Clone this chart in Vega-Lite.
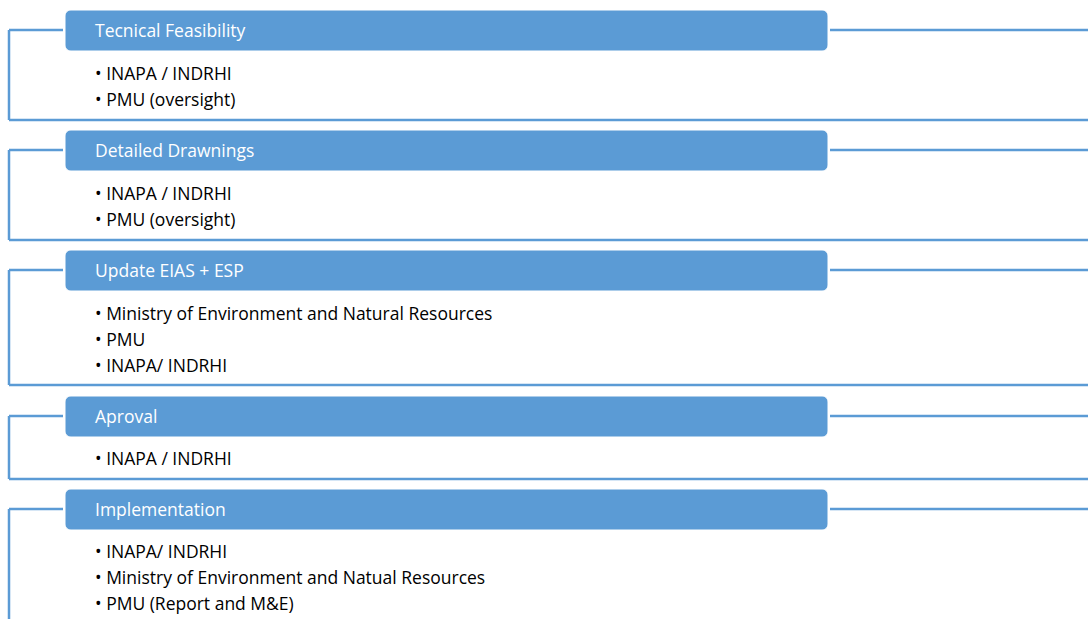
{
  "$schema": "https://vega.github.io/schema/vega-lite/v6.json",
  "autosize": "none",
  "width": 1088,
  "height": 619,
  "padding": 0,
  "background": "white",
  "config": {"view": {"stroke": null}},
  "datasets": {
    "boxes": [
      {"x1": 65, "x2": 828, "y1": 10, "y2": 51, "ym": 31, "label": "Tecnical Feasibility"},
      {"x1": 65, "x2": 828, "y1": 130, "y2": 171, "ym": 151, "label": "Detailed Drawnings"},
      {"x1": 65, "x2": 828, "y1": 250, "y2": 291, "ym": 271, "label": "Update EIAS + ESP"},
      {"x1": 65, "x2": 828, "y1": 396, "y2": 437, "ym": 417, "label": "Aproval"},
      {"x1": 65, "x2": 828, "y1": 489, "y2": 530, "ym": 510, "label": "Implementation"}
    ],
    "rules": [
      {"x1": 9, "x2": 63, "y1": 30, "y2": 30},
      {"x1": 9, "x2": 9, "y1": 30, "y2": 120},
      {"x1": 9, "x2": 1088, "y1": 120, "y2": 120},
      {"x1": 830, "x2": 1088, "y1": 30, "y2": 30},
      {"x1": 9, "x2": 63, "y1": 150, "y2": 150},
      {"x1": 9, "x2": 9, "y1": 150, "y2": 240},
      {"x1": 9, "x2": 1088, "y1": 240, "y2": 240},
      {"x1": 830, "x2": 1088, "y1": 150, "y2": 150},
      {"x1": 9, "x2": 63, "y1": 270, "y2": 270},
      {"x1": 9, "x2": 9, "y1": 270, "y2": 385},
      {"x1": 9, "x2": 1088, "y1": 385, "y2": 385},
      {"x1": 830, "x2": 1088, "y1": 270, "y2": 270},
      {"x1": 9, "x2": 63, "y1": 416, "y2": 416},
      {"x1": 9, "x2": 9, "y1": 416, "y2": 479},
      {"x1": 9, "x2": 1088, "y1": 479, "y2": 479},
      {"x1": 830, "x2": 1088, "y1": 416, "y2": 416},
      {"x1": 9, "x2": 63, "y1": 509, "y2": 509},
      {"x1": 9, "x2": 9, "y1": 509, "y2": 619},
      {"x1": 830, "x2": 1088, "y1": 509, "y2": 509}
    ],
    "items": [
      {"x": 95, "y": 73, "text": "• INAPA / INDRHI"},
      {"x": 95, "y": 99, "text": "• PMU (oversight)"},
      {"x": 95, "y": 193, "text": "• INAPA / INDRHI"},
      {"x": 95, "y": 219, "text": "• PMU (oversight)"},
      {"x": 95, "y": 313, "text": "• Ministry of Environment and Natural Resources"},
      {"x": 95, "y": 339, "text": "• PMU"},
      {"x": 95, "y": 365, "text": "• INAPA/ INDRHI"},
      {"x": 95, "y": 458, "text": "• INAPA / INDRHI"},
      {"x": 95, "y": 551, "text": "• INAPA/ INDRHI"},
      {"x": 95, "y": 577, "text": "• Ministry of Environment and Natual Resources"},
      {"x": 95, "y": 603, "text": "• PMU (Report and M&E)"}
    ]
  },
  "layer": [
    {
      "data": {"name": "rules"},
      "mark": {"type": "rule", "color": "#5B9BD5", "strokeWidth": 2.5},
      "encoding": {
        "x": {"field": "x1", "type": "quantitative", "scale": {"domain": [0, 1088], "nice": false, "zero": false}, "axis": null},
        "x2": {"field": "x2"},
        "y": {"field": "y1", "type": "quantitative", "scale": {"domain": [0, 619], "nice": false, "zero": false, "reverse": true}, "axis": null},
        "y2": {"field": "y2"}
      }
    },
    {
      "data": {"name": "boxes"},
      "mark": {"type": "rect", "fill": "#5B9BD5", "cornerRadius": 6, "stroke": "white", "strokeWidth": 1},
      "encoding": {
        "x": {"field": "x1", "type": "quantitative"},
        "x2": {"field": "x2"},
        "y": {"field": "y1", "type": "quantitative"},
        "y2": {"field": "y2"}
      }
    },
    {
      "data": {"name": "boxes"},
      "mark": {"type": "text", "align": "left", "baseline": "middle", "dx": 30, "dy": 1, "color": "white", "font": "Open Sans", "fontSize": 17.5},
      "encoding": {
        "x": {"field": "x1", "type": "quantitative"},
        "y": {"field": "ym", "type": "quantitative"},
        "text": {"field": "label"}
      }
    },
    {
      "data": {"name": "items"},
      "mark": {"type": "text", "align": "left", "baseline": "middle", "dy": 2, "color": "black", "font": "Open Sans", "fontSize": 17.5},
      "encoding": {
        "x": {"field": "x", "type": "quantitative"},
        "y": {"field": "y", "type": "quantitative"},
        "text": {"field": "text"}
      }
    }
  ]
}
